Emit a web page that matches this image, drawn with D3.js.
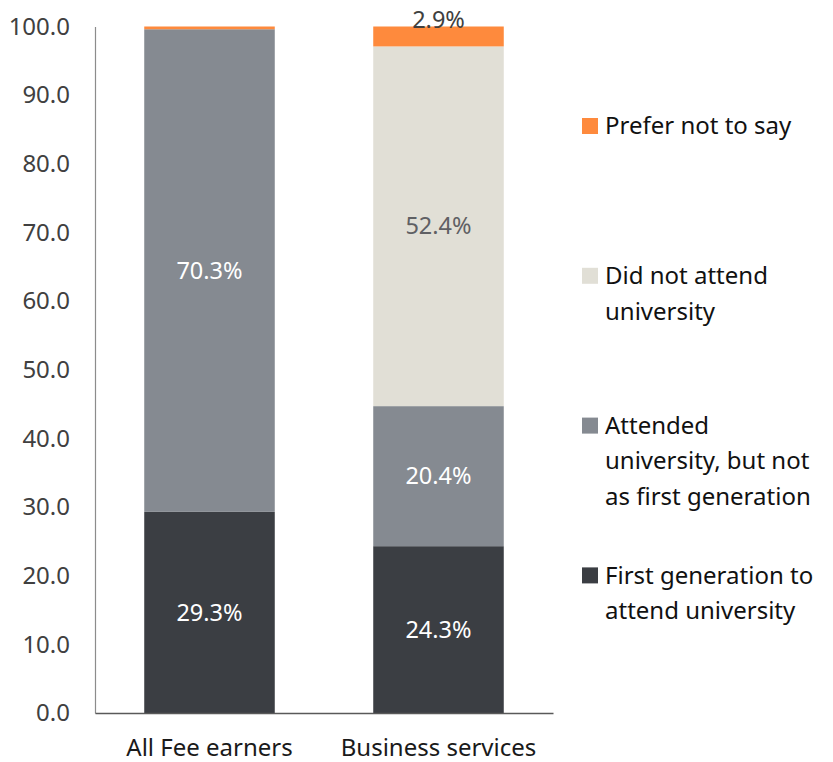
<!DOCTYPE html>
<html>
<head>
<meta charset="utf-8">
<script src="https://cdn.jsdelivr.net/npm/d3@7"></script>
<style>
    body { margin: 0; background: #fff; }
    text { font-family: "Noto Sans", "Open Sans", sans-serif; }
</style>
</head>
<body>
<div id="chart"></div>
<script>
// data
const categories = ["All Fee earners", "Business services"];
const firstGen = [29.3, 24.3];
const attendedNotFirst = [70.3, 20.4];
const didNotAttend = [0, 52.4];
const preferNot = [0.4, 2.9];

const seriesKeys = ["firstGen", "attendedNotFirst", "didNotAttend", "preferNot"];
const seriesLabels = [
    ["First generation to", "attend university"],
    ["Attended", "university, but not", "as first generation"],
    ["Did not attend", "university"],
    ["Prefer not to say"]
];
const seriesColors = ["#3b3e43", "#858a91", "#e1dfd6", "#fe8a3d"];
const labelColors = ["#ffffff", "#ffffff", "#5f6064", "#404040"];
const yTickValues = [0, 10, 20, 30, 40, 50, 60, 70, 80, 90, 100];

// margin convention
const svgWidth = 833,
    svgHeight = 762,
    margin = { top: 26.5, right: 280, bottom: 49, left: 95 },
    width = svgWidth - margin.left - margin.right,
    height = svgHeight - margin.top - margin.bottom;

let svg = d3.select("#chart").append("svg")
    .attr("width", svgWidth)
    .attr("height", svgHeight)
    .append("g")
    .attr("transform", "translate(" + margin.left + "," + margin.top + ")");

// reformat data for stacking
let rows = categories.map((c, i) => ({
    cat: c,
    firstGen: firstGen[i],
    attendedNotFirst: attendedNotFirst[i],
    didNotAttend: didNotAttend[i],
    preferNot: preferNot[i]
}));
let stacked = d3.stack().keys(seriesKeys)(rows);

// scales
let xScale = d3.scaleBand()
    .domain(categories)
    .range([0, width])
    .paddingInner(0.43)
    .paddingOuter(0.215);
let yScale = d3.scaleLinear()
    .domain([0, 100])
    .range([height, 0]);

// y axis
let yAxis = svg.append("g")
    .call(d3.axisLeft(yScale).tickValues(yTickValues).tickFormat(d3.format(".1f")).tickSize(0).tickPadding(25));
yAxis.select(".domain").attr("stroke", "#8c8c8c").attr("stroke-width", 1.2);
yAxis.selectAll("text")
    .attr("font-size", 24)
    .attr("fill", "#404040")
    .style("font-family", "'Noto Sans', sans-serif");

// bars
let groups = svg.selectAll("g.series")
    .data(stacked)
    .join("g")
    .attr("class", "series")
    .attr("fill", (d, i) => seriesColors[i]);

groups.selectAll("rect")
    .data((d) => d)
    .join("rect")
    .attr("x", (d) => xScale(d.data.cat))
    .attr("y", (d) => yScale(d[1]))
    .attr("width", xScale.bandwidth())
    .attr("height", (d) => yScale(d[0]) - yScale(d[1]));

// data labels
groups.each(function (s, si) {
    d3.select(this).selectAll("text")
        .data(s.filter((p) => p[1] - p[0] >= 1))
        .join("text")
        .attr("x", (d) => xScale(d.data.cat) + xScale.bandwidth() / 2)
        .attr("y", (d) => (d[1] - d[0] < 5) ? yScale(d[1]) + 1 : yScale((d[0] + d[1]) / 2))
        .attr("dy", (d) => (d[1] - d[0] < 5) ? "0" : "0.35em")
        .attr("text-anchor", "middle")
        .attr("font-size", 23.5)
        .attr("fill", labelColors[si])
        .text((d) => (d[1] - d[0]).toFixed(1) + "%");
});

// x axis
let xAxis = svg.append("g")
    .attr("transform", "translate(0," + height + ")")
    .call(d3.axisBottom(xScale).tickSize(0).tickPadding(26));
xAxis.select(".domain").attr("stroke", "#595959").attr("stroke-width", 1.5);
xAxis.selectAll("text")
    .attr("font-size", 24)
    .attr("fill", "#1a1a1a")
    .style("font-family", "'Noto Sans', sans-serif");

// legend (top to bottom reversed from stack order)
let legend = svg.append("g")
    .attr("transform", "translate(" + (width + 29) + ",0)");
let legendItems = legend.selectAll("g")
    .data(seriesKeys.map((k, i) => i).reverse())
    .join("g")
    .attr("transform", (d, j) => "translate(0," + (99.5 + j * 149.8) + ")");
legendItems.append("rect")
    .attr("x", 0)
    .attr("y", -8)
    .attr("width", 16)
    .attr("height", 16)
    .attr("fill", (i) => seriesColors[i]);
legendItems.append("text")
    .attr("font-size", 24)
    .attr("fill", "#111")
    .selectAll("tspan")
    .data((i) => seriesLabels[i])
    .join("tspan")
    .attr("x", 23)
    .attr("y", (d, j) => j * 35.5)
    .attr("dy", "0.35em")
    .text((d) => d);
</script>
</body>
</html>
